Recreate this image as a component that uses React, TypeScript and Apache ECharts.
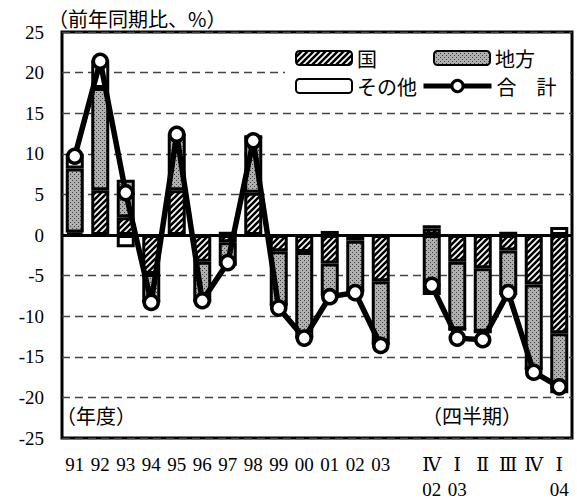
import React, { useEffect, useRef } from 'react';
import * as echarts from 'echarts';

// Categories: fiscal years, a gap, then quarters
const categories = ['91', '92', '93', '94', '95', '96', '97', '98', '99', '00', '01', '02', '03', '', 'Ⅳ\n02', 'Ⅰ\n03', 'Ⅱ', 'Ⅲ', 'Ⅳ', 'Ⅰ\n04'];

// 国 (national)
const kuniValues = [0.3, 5.5, 2.2, -4.8, 5.5, -3.3, -0.9, 5.2, -2.0, -2.1, -3.5, -0.7, -5.7, null, 0.8, -3.3, -4.1, -1.9, -6.1, -12.1];
// 地方 (local)
const chihoValues = [7.9, 12.6, 4.6, -3.4, 7.0, -4.8, -2.9, 6.9, -6.6, -10.5, -4.0, -6.2, -7.7, null, -7.4, -8.3, -7.8, -5.5, -10.4, -7.4];
// その他 (other)
const sonotaValues = [1.8, 3.4, -1.5, 0, 0.3, 0, 0.4, 0, 0, 0, 0.5, 0, 0, null, 0.4, 0, 0, 0.4, 0, 1.0];
// 合計 (total)
const totalValues = [9.7, 21.4, 5.2, -8.3, 12.4, -8.1, -3.4, 11.6, -9.0, -12.7, -7.6, -7.1, -13.6, null, -6.2, -12.7, -12.9, -7.1, -16.9, -18.7];

const yMin = -25;
const yMax = 25;
const yInterval = 5;

const CJK = '"Noto Sans CJK JP", sans-serif';
const SERIF = '"Liberation Serif", "DejaVu Serif", serif';

function makeHatch(): HTMLCanvasElement {
  const s = 6;
  const c = document.createElement('canvas');
  c.width = s;
  c.height = s;
  const ctx = c.getContext('2d')!;
  ctx.fillStyle = '#fff';
  ctx.fillRect(0, 0, s, s);
  ctx.strokeStyle = '#000';
  ctx.lineWidth = 2.6;
  ctx.beginPath();
  for (let k = -1; k <= 1; k++) {
    ctx.moveTo(k * s - 1, s + 1);
    ctx.lineTo(k * s + s + 1, -1);
  }
  ctx.stroke();
  return c;
}

function makeDots(): HTMLCanvasElement {
  const s = 4;
  const c = document.createElement('canvas');
  c.width = s;
  c.height = s;
  const ctx = c.getContext('2d')!;
  ctx.fillStyle = '#b0b0b0';
  ctx.fillRect(0, 0, s, s);
  ctx.fillStyle = '#404040';
  ctx.fillRect(0, 0, 1, 1);
  ctx.fillRect(2, 2, 1, 1);
  return c;
}

export default function App() {
  const ref = useRef<HTMLDivElement>(null);

  useEffect(() => {
    if (!ref.current) return;
    const chart = echarts.init(ref.current, null, { renderer: 'svg' });
    const hatch = { image: makeHatch(), repeat: 'repeat' };
    const dots = { image: makeDots(), repeat: 'repeat' };

    const barCommon = {
      type: 'bar',
      stack: 'total',
      barWidth: 18,
    };

    const legendText = { fontSize: 20, fontFamily: CJK, color: '#000' };

    chart.setOption({
      animation: false,
      backgroundColor: '#fff',
      textStyle: { fontFamily: SERIF, color: '#000' },
      grid: {
        left: 62,
        right: 5,
        top: 32,
        bottom: 64,
        show: true,
        borderColor: '#000',
        borderWidth: 3,
        backgroundColor: 'transparent',
        containLabel: false,
        outerBoundsMode: 'none',
      },
      legend: [
        {
          data: ['国'],
          left: 285,
          top: 38,
          orient: 'vertical',
          padding: [10, 193, 30, 10],
          backgroundColor: '#fff',
          itemWidth: 56,
          itemHeight: 14,
          textStyle: legendText,
          selectedMode: false,
        },
        {
          data: ['その他'],
          left: 295,
          top: 76,
          padding: 0,
          itemWidth: 56,
          itemHeight: 14,
          textStyle: legendText,
          selectedMode: false,
        },
        {
          data: ['地方'],
          left: 433,
          top: 48,
          padding: 0,
          itemWidth: 56,
          itemHeight: 14,
          textStyle: legendText,
          selectedMode: false,
        },
        {
          data: ['合　計'],
          left: 421,
          top: 76,
          padding: 0,
          itemWidth: 68,
          itemHeight: 14,
          textStyle: legendText,
          selectedMode: false,
          lineStyle: { width: 5, color: '#000' },
          itemStyle: { color: '#fff', borderColor: '#000', borderWidth: 3 },
        },
      ],
      xAxis: {
        type: 'category',
        data: categories,
        axisLine: { show: false, onZero: false },
        axisTick: { show: false },
        axisLabel: {
          interval: 0,
          fontSize: 19,
          lineHeight: 25,
          margin: 14,
          color: '#000',
          fontFamily: SERIF,
        },
        splitLine: { show: false },
      },
      yAxis: {
        type: 'value',
        min: yMin,
        max: yMax,
        interval: yInterval,
        axisLine: { show: false },
        axisTick: { show: false },
        axisLabel: {
          fontSize: 19,
          margin: 18,
          color: '#000',
          fontFamily: SERIF,
        },
        splitLine: {
          show: true,
          lineStyle: { color: '#444', type: [8, 5], width: 1.3 },
        },
      },
      series: [
        {
          ...barCommon,
          name: '国',
          data: kuniValues,
          itemStyle: { color: hatch, borderColor: '#000', borderWidth: 3 },
          markLine: {
            silent: true,
            symbol: ['none', 'none'],
            label: { show: false },
            lineStyle: { color: '#000', width: 3, type: 'solid' },
            data: [{ yAxis: 0 }],
          },
        },
        {
          ...barCommon,
          name: '地方',
          data: chihoValues,
          itemStyle: { color: dots, borderColor: '#000', borderWidth: 3 },
        },
        {
          ...barCommon,
          name: 'その他',
          data: sonotaValues,
          itemStyle: { color: '#fff', borderColor: '#000', borderWidth: 3 },
        },
        {
          type: 'line',
          name: '合　計',
          data: totalValues,
          connectNulls: false,
          symbol: 'circle',
          symbolSize: 14,
          z: 5,
          lineStyle: { color: '#000', width: 5.5 },
          itemStyle: { color: '#fff', borderColor: '#000', borderWidth: 3.5 },
        },
      ],
      graphic: [
        {
          type: 'text',
          x: 48,
          y: 18,
          style: { text: '（前年同期比、%）', font: '20px ' + CJK, fill: '#000', verticalAlign: 'middle' },
        },
        {
          type: 'text',
          x: 56,
          y: 415,
          style: { text: '（年度）', font: '20px ' + CJK, fill: '#000', verticalAlign: 'middle' },
        },
        {
          type: 'text',
          x: 422,
          y: 415,
          style: { text: '（四半期）', font: '20px ' + CJK, fill: '#000', verticalAlign: 'middle' },
        },
      ],
    });

    return () => chart.dispose();
  }, []);

  return (
    <div
      ref={ref}
      style={{ position: 'fixed', left: 0, top: 0, width: 577, height: 502 }}
    />
  );
}
